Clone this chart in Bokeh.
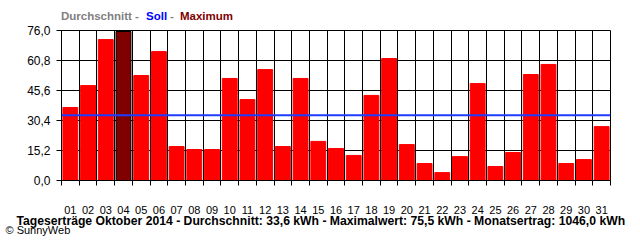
from bokeh.plotting import figure
from bokeh.layouts import column
from bokeh.models import (Range1d, LinearAxis, FixedTicker, Grid, Span, Title, Div,
                          ColumnDataSource)
from bokeh.embed import file_html
from bokeh.resources import INLINE

# ---- data ----
days = ["01", "02", "03", "04", "05", "06", "07", "08", "09", "10", "11", "12",
        "13", "14", "15", "16", "17", "18", "19", "20", "21", "22", "23", "24",
        "25", "26", "27", "28", "29", "30", "31"]
values = [37.0, 48.1, 71.4, 75.5, 53.2, 65.3, 17.2, 15.7, 15.7, 51.7, 41.0, 56.2,
          17.2, 51.7, 19.8, 16.2, 12.7, 43.1, 61.8, 18.2, 8.6, 4.0, 12.1, 49.1,
          7.1, 14.2, 53.7, 58.8, 8.6, 10.6, 27.3]
soll = 33.0
y_ticks = [0.0, 15.2, 30.4, 45.6, 60.8, 76.0]
y_labels = ["0,0", "15,2", "30,4", "45,6", "60,8", "76,0"]
legend_parts = [("Durchschnitt -", "#808080", 61), ("Soll", "#0000ff", 146),
                ("-", "#808080", 170), ("Maximum", "#800000", 180)]
footer = "Tageserträge Oktober 2014 - Durchschnitt: 33,6 kWh - Maximalwert: 75,5 kWh - Monatsertrag: 1046,0 kWh"
copyright_text = "© SunnyWeb"

FONT = "Liberation Sans"
W = 640
n = len(days)
xs = list(range(1, n + 1))
boundaries = [i + 0.5 for i in range(0, n + 1)]
vmax = max(values)
fill = ["#800000" if v == vmax else "#ff0000" for v in values]
line = ["#000000" if v == vmax else "#ff0000" for v in values]
src = ColumnDataSource(dict(x=xs, top=values, fill=fill, line=line))

# header (multi-coloured legend line)
spans = "".join(
    f'<span style="position:absolute;left:{x}px;top:10px;line-height:12px;'
    f'white-space:nowrap;font-family:\'{FONT}\';font-size:11.5px;font-weight:bold;'
    f'color:{c}">{t}</span>'
    for t, c, x in legend_parts)
head = Div(text=f'<div style="position:relative;width:{W}px;height:25px;'
                f'background:white">{spans}</div>',
           width=W, height=25, margin=0)

# main chart
p = figure(width=W, height=215, output_backend="svg", toolbar_location=None,
           x_range=Range1d(0.5, n + 0.5), y_range=Range1d(y_ticks[0], y_ticks[-1]),
           x_axis_location=None, y_axis_location=None,
           min_border_left=61, min_border_right=30, min_border_top=5,
           min_border_bottom=60, margin=0)
p.background_fill_color = "white"
p.border_fill_color = "white"
p.outline_line_color = "black"
p.outline_line_width = 1
p.xgrid.visible = False
p.ygrid.visible = False

ytk = FixedTicker(ticks=y_ticks)
btk = FixedTicker(ticks=boundaries)
ctk = FixedTicker(ticks=xs)

p.add_layout(Grid(dimension=0, ticker=btk, grid_line_color="black", grid_line_width=1))
p.add_layout(Grid(dimension=1, ticker=ytk, grid_line_color="black", grid_line_width=1))

yaxis = LinearAxis(ticker=ytk, major_label_overrides=dict(zip(y_ticks, y_labels)),
                   major_tick_out=5, major_tick_in=0, minor_tick_in=0, minor_tick_out=0,
                   axis_line_color="black", major_tick_line_color="black",
                   major_label_standoff=6, major_label_text_font=FONT,
                   major_label_text_font_size="12px", major_label_text_color="black")
p.add_layout(yaxis, "left")

xaxis1 = LinearAxis(ticker=btk, major_label_overrides={b: "" for b in boundaries},
                    major_tick_out=5, major_tick_in=0, minor_tick_in=0, minor_tick_out=0,
                    axis_line_color="black", major_tick_line_color="black",
                    major_label_standoff=0, major_label_text_font_size="1px")
p.add_layout(xaxis1, "below")

xaxis2 = LinearAxis(ticker=ctk, major_label_overrides=dict(zip(xs, days)),
                    major_tick_out=0, major_tick_in=0, minor_tick_in=0, minor_tick_out=0,
                    axis_line_color=None, major_tick_line_color=None,
                    major_label_standoff=20, major_label_text_font=FONT,
                    major_label_text_font_size="11px", major_label_text_color="black")
p.add_layout(xaxis2, "below")

p.vbar(x="x", top="top", width=0.84, source=src, fill_color="fill", line_color="line",
       line_width=1)

p.add_layout(Span(location=soll, dimension="width", line_color="#1e3cff", line_width=2))

p.add_layout(Title(text=footer, align="left", offset=-45, standoff=-6,
                   vertical_align="top",
                   text_font=FONT, text_font_size="12.2px", text_font_style="bold",
                   text_color="black"), "below")
p.add_layout(Title(text=copyright_text, align="left", offset=-56, standoff=-6,
                   vertical_align="top",
                   text_font=FONT, text_font_size="11px", text_font_style="normal",
                   text_color="black"), "below")

layout = column(head, p, spacing=0, margin=0)
open("out.html", "w").write(file_html(layout, INLINE))
